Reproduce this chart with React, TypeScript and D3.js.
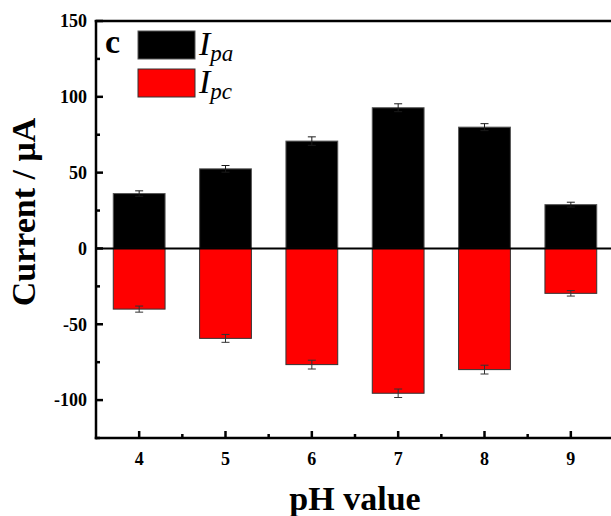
import React, { useEffect, useRef } from 'react';
import * as d3 from 'd3';

const phValues = [4, 5, 6, 7, 8, 9];
const ipaValues = [36.2, 52.5, 70.8, 92.8, 80.0, 28.9];
const ipaErrors = [1.8, 2.2, 2.8, 2.6, 2.3, 1.6];
const ipcValues = [-40.0, -59.3, -76.6, -95.5, -79.9, -29.6];
const ipcErrors = [2.0, 2.6, 2.9, 2.8, 2.9, 1.8];
const yTicks = [-100, -50, 0, 50, 100, 150];
const yMinorTicks = [-125, -75, -25, 25, 75, 125];
const xMinorTicks = [4.5, 5.5, 6.5, 7.5, 8.5];

const FONT = '"Liberation Serif", "DejaVu Serif", "Times New Roman", serif';

const App = () => {
    const ref = useRef<SVGSVGElement>(null);

    useEffect(() => {
        document.body.style.margin = '0';
        const svg = d3.select(ref.current);
        svg.selectAll('*').remove();

        const left = 96, right = 614, top = 21, bottom = 438;
        const x = d3.scaleLinear().domain([3.5, 9.5]).range([left, right]);
        const y = d3.scaleLinear().domain([-125, 150]).range([bottom, top]);
        const barW = x(4.6) - x(4);

        const series = [
            { values: ipaValues, errors: ipaErrors, fill: '#000000', stroke: '#555555', err: '#1a1a1a' },
            { values: ipcValues, errors: ipcErrors, fill: '#ff0000', stroke: '#333333', err: '#333333' }
        ];

        series.forEach(s => {
            svg.append('g').selectAll('rect')
                .data(phValues)
                .enter()
                .append('rect')
                .attr('x', d => x(d) - barW / 2)
                .attr('width', barW)
                .attr('y', (d, i) => Math.min(y(s.values[i]), y(0)))
                .attr('height', (d, i) => Math.abs(y(s.values[i]) - y(0)))
                .attr('fill', s.fill)
                .attr('stroke', s.stroke)
                .attr('stroke-width', 1);
        });

        // error bars, full +/- with caps
        series.forEach(s => {
            const g = svg.append('g').attr('stroke', s.err).attr('stroke-width', 1);
            phValues.forEach((ph, i) => {
                const v = s.values[i], e = s.errors[i];
                const cx = x(ph);
                g.append('line').attr('x1', cx).attr('x2', cx)
                    .attr('y1', y(v - e)).attr('y2', y(v + e));
                [v - e, v + e].forEach(t => {
                    g.append('line').attr('x1', cx - 4).attr('x2', cx + 4)
                        .attr('y1', y(t)).attr('y2', y(t));
                });
            });
        });

        // zero line
        svg.append('line').attr('x1', left).attr('x2', right)
            .attr('y1', y(0)).attr('y2', y(0))
            .attr('stroke', '#000').attr('stroke-width', 2);

        // axes
        const axisG = svg.append('g').attr('stroke', '#000').attr('stroke-width', 2.5);
        axisG.append('line').attr('x1', left).attr('x2', left).attr('y1', top - 1).attr('y2', bottom + 1.25);
        axisG.append('line').attr('x1', left - 1.25).attr('x2', right).attr('y1', bottom).attr('y2', bottom);
        axisG.append('line').attr('x1', left - 1.25).attr('x2', right).attr('y1', top).attr('y2', top);

        yTicks.forEach(t => {
            axisG.append('line').attr('x1', left).attr('x2', left + 7).attr('y1', y(t)).attr('y2', y(t));
        });
        yMinorTicks.forEach(t => {
            axisG.append('line').attr('x1', left).attr('x2', left + 4).attr('y1', y(t)).attr('y2', y(t));
        });
        phValues.forEach(t => {
            axisG.append('line').attr('x1', x(t)).attr('x2', x(t)).attr('y1', bottom).attr('y2', bottom - 7);
        });
        xMinorTicks.forEach(t => {
            axisG.append('line').attr('x1', x(t)).attr('x2', x(t)).attr('y1', bottom).attr('y2', bottom - 4);
        });

        svg.append('g').selectAll('text')
            .data(yTicks)
            .enter()
            .append('text')
            .attr('x', left - 9)
            .attr('y', d => y(d))
            .attr('dy', '0.35em')
            .attr('text-anchor', 'end')
            .style('font-family', FONT)
            .style('font-weight', 'bold')
            .style('font-size', '18px')
            .text(d => d);

        svg.append('g').selectAll('text')
            .data(phValues)
            .enter()
            .append('text')
            .attr('x', d => x(d))
            .attr('y', 465)
            .attr('text-anchor', 'middle')
            .style('font-family', FONT)
            .style('font-weight', 'bold')
            .style('font-size', '18px')
            .text(d => d);

        svg.append('text')
            .attr('x', (left + right) / 2)
            .attr('y', 510)
            .attr('text-anchor', 'middle')
            .style('font-family', FONT)
            .style('font-weight', 'bold')
            .style('font-size', '34px')
            .text('pH value');

        svg.append('text')
            .attr('transform', 'translate(35, 212) rotate(-90)')
            .attr('text-anchor', 'middle')
            .style('font-family', FONT)
            .style('font-weight', 'bold')
            .style('font-size', '34px')
            .text('Current / μA');

        svg.append('text')
            .attr('x', 105)
            .attr('y', 53)
            .style('font-family', FONT)
            .style('font-weight', 'bold')
            .style('font-size', '34px')
            .text('c');

        // legend
        const legend = [
            { sub: 'pa', fill: '#000000', stroke: '#555555', y0: 31 },
            { sub: 'pc', fill: '#ff0000', stroke: '#333333', y0: 69 }
        ];
        legend.forEach(l => {
            svg.append('rect')
                .attr('x', 138).attr('y', l.y0)
                .attr('width', 57).attr('height', 28)
                .attr('fill', l.fill).attr('stroke', l.stroke).attr('stroke-width', 1);
            const t = svg.append('text')
                .attr('x', 199)
                .attr('y', l.y0 + 24)
                .style('font-family', FONT)
                .style('font-style', 'italic')
                .style('font-size', '34px');
            t.append('tspan').text('I');
            t.append('tspan').attr('dy', 6).style('font-size', '23px').text(l.sub);
        });
    }, []);

    return (
        <svg ref={ref} width={611} height={516}
            style={{ display: 'block', position: 'absolute', left: 0, top: 0, background: '#fff' }} />
    );
};

export default App;
